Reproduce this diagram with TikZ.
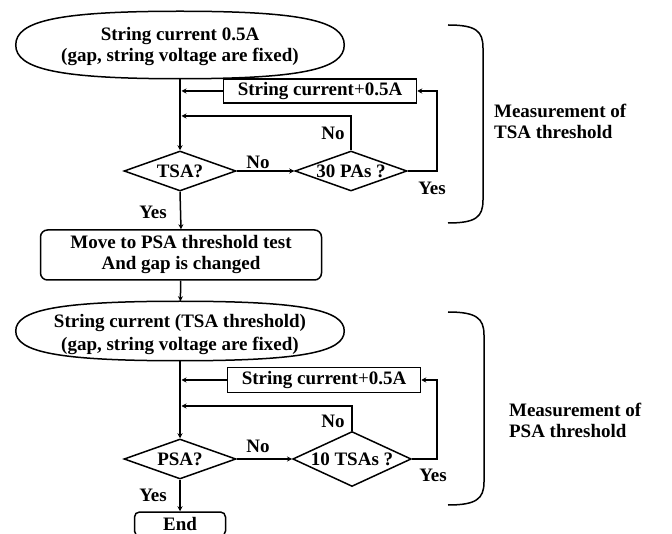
\documentclass[tikz,border=0pt]{standalone}
\usepackage{fontspec}
\setmainfont{Liberation Serif}
\usetikzlibrary{shapes.geometric,arrows.meta}
\begin{document}
\begin{tikzpicture}[x=1pt,y=-1pt,line width=1.5pt,>={Stealth[length=5pt,width=5pt]},
		font=\bfseries\fontsize{19}{21}\selectfont,
		oval/.style={rectangle,align=center,inner sep=0pt,minimum width=327pt,minimum height=66pt},
		test/.style={draw,diamond,inner sep=0pt,shape aspect=2.8,minimum width=112pt,minimum height=40pt},
		stepbox/.style={draw,rectangle,inner sep=0pt,minimum width=193pt,minimum height=24pt},
		movebox/.style={draw,rectangle,rounded corners=7pt,align=center,inner sep=0pt,minimum width=281pt,minimum height=50pt}]
	\useasboundingbox (0,0) rectangle (672,534);
	% TSA threshold
	\node[oval] (start1) at (180,45) {\rule{0pt}{16pt}String current 0.5A\\(gap, string voltage are fixed)};
	\draw (start1.north) .. controls ([xshift=122pt]start1.north) and ([yshift=24pt]start1.east) .. (start1.east)
		.. controls ([yshift=-24pt]start1.east) and ([xshift=122pt]start1.south) .. (start1.south)
		.. controls ([xshift=-122pt]start1.south) and ([yshift=-24pt]start1.west) .. (start1.west)
		.. controls ([yshift=24pt]start1.west) and ([xshift=-122pt]start1.north) .. (start1.north);
	\node[stepbox] (inc1) at (320,91) {String current{\mdseries +}0.5A};
	\node[test] (tsa) at (180,171) {TSA?};
	\node[test] (pas) at (351,171) {30 PAs ?};
	\coordinate (back1) at (180,116);
	\coordinate (up1) at (437,91);
	\draw[->] (start1) -- (tsa);
	\draw[->,shorten >=1.5pt] (inc1.west) -- (inc1.west -| tsa.north);
	\draw[->,shorten >=1.5pt] (pas.north) |- (back1);
	\draw[->] (tsa.east) -- (pas.west);
	\draw[->] (pas.east) -| (up1) -- (inc1.east);
	\node (no1) at (333,133) {No};
	\node (no2) at (258,162) {No};
	\node (yes1) at (432,188) {Yes};
	\node (yes2) at (153,212) {Yes};
	% change gap
	\node[movebox] (move) at (181,255) {Move to PSA threshold test\\And gap is changed};
	\draw[->] (tsa.south) -- (move.north);
	% PSA threshold
	\node[oval,minimum height=58pt,font=\bfseries\fontsize{19}{23}\selectfont] (start2) at (180,331) {\rule{0pt}{20pt}String current (TSA threshold)\\(gap, string voltage are fixed)};
	\draw (start2.north) .. controls ([xshift=122pt]start2.north) and ([yshift=21pt]start2.east) .. (start2.east)
		.. controls ([yshift=-21pt]start2.east) and ([xshift=122pt]start2.south) .. (start2.south)
		.. controls ([xshift=-122pt]start2.south) and ([yshift=-21pt]start2.west) .. (start2.west)
		.. controls ([yshift=21pt]start2.west) and ([xshift=-122pt]start2.north) .. (start2.north);
	\node[stepbox,minimum height=25pt] (inc2) at (324,380) {String current{\mdseries +}0.5A};
	\node[test] (psa) at (180,459) {PSA?};
	\node[test,minimum height=55pt] (tsas) at (352,459) {10 TSAs ?};
	\node[draw,rounded corners=5pt,minimum width=91pt,minimum height=24pt,inner sep=0pt,text depth=0pt] (end) at (180,524) {End};
	\coordinate (back2) at (180,406);
	\coordinate (up2) at (437,380);
	\draw[->] (move) -- (start2);
	\draw[->] (start2) -- (psa);
	\draw[->,shorten >=1.5pt] (inc2.west) -- (inc2.west -| psa.north);
	\draw[->,shorten >=1.5pt] (tsas.north) |- (back2);
	\draw[->] (psa.east) -- (tsas.west);
	\draw[->] (tsas.east) -| (up2) -- (inc2.east);
	\draw[->] (psa.south) -- (end.north);
	\node (no3) at (333,421) {No};
	\node (no4) at (258,446) {No};
	\node (yes3) at (433,475) {Yes};
	\node (yes4) at (153,495) {Yes};
	% brackets
	\draw (448,25) .. controls (476,25) and (483,31) .. (483,48) -- (483,200) .. controls (483,217) and (476,223) .. (448,223);
	\draw (448,312) .. controls (476,312) and (484,318) .. (484,335) -- (484,482) .. controls (484,499) and (476,505) .. (448,505);
	\node[anchor=west,align=left] (m1) at (490,121) {Measurement of\\TSA threshold};
	\node[anchor=west,align=left] (m2) at (505,420) {Measurement of\\PSA threshold};
\end{tikzpicture}
\end{document}
